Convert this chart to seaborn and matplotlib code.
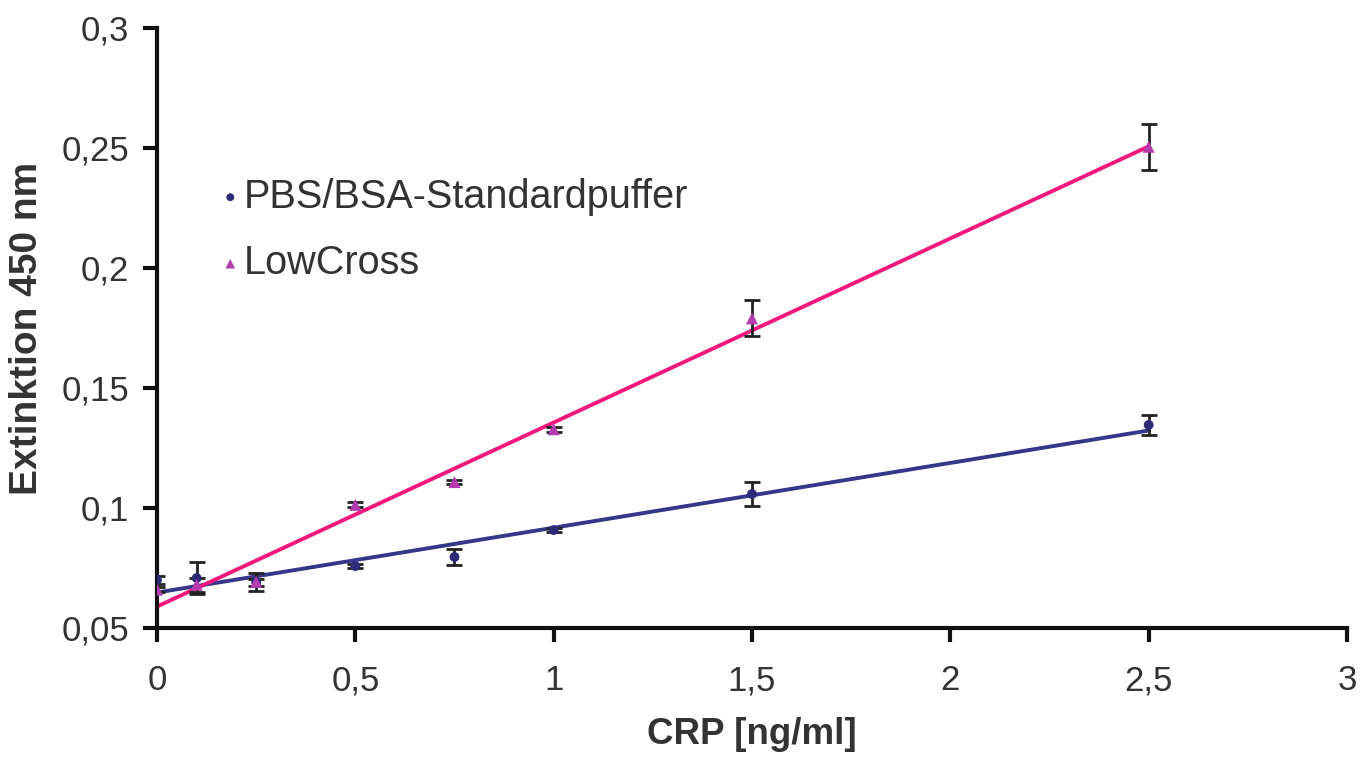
import numpy as np
import pandas as pd
import matplotlib
matplotlib.use("Agg")
import matplotlib.pyplot as plt
from matplotlib.ticker import FuncFormatter, MultipleLocator
import seaborn as sns

# CRP concentrations [ng/ml]
crp = [0, 0.1, 0.25, 0.5, 0.75, 1.0, 1.5, 2.5]

# mean extinction at 450 nm and error
pbs_mean = [0.070, 0.0708, 0.069, 0.0758, 0.0796, 0.0908, 0.1058, 0.1346]
pbs_err = [0.0015, 0.0068, 0.0015, 0.001, 0.0033, 0.001, 0.005, 0.0042]
low_mean = [0.066, 0.068, 0.0692, 0.1013, 0.1108, 0.1328, 0.179, 0.2505]
low_err = [0.001, 0.003, 0.0037, 0.001, 0.001, 0.001, 0.0075, 0.0096]

labels = ["PBS/BSA-Standardpuffer", "LowCross"]
line_colors = ["#36368a", "#f2187c"]
marker_colors = ["#2b2b78", "#b43cb0"]
markers = ["o", "^"]
marker_sizes = [50, 75]

df = pd.DataFrame({
    "crp": crp * 2,
    "ext": pbs_mean + low_mean,
    "err": pbs_err + low_err,
    "puffer": [labels[0]] * len(crp) + [labels[1]] * len(crp),
})

sns.set_style("ticks")
plt.rcParams["font.family"] = ["Liberation Sans", "DejaVu Sans"]

fig = plt.figure(figsize=(13.7, 7.6), dpi=100)
ax = fig.add_axes([0.1146, 0.1737, 0.8686, 0.7895])

for i, name in enumerate(labels):
    sub = df[df["puffer"] == name]
    # linear trend line
    sns.regplot(data=sub, x="crp", y="ext", ax=ax, ci=None, scatter=False,
                color=line_colors[i], line_kws={"lw": 2.8, "zorder": 2})
    ax.errorbar(sub["crp"], sub["ext"], yerr=sub["err"], fmt="none",
                ecolor="#222222", elinewidth=2, capsize=6, capthick=2, zorder=3)
    sns.scatterplot(data=sub, x="crp", y="ext", ax=ax, marker=markers[i],
                    color=marker_colors[i], s=marker_sizes[i], edgecolor="none",
                    label=name, zorder=4)

ax.set_xlim(0, 3)
ax.set_ylim(0.05, 0.3)
ax.xaxis.set_major_locator(MultipleLocator(0.5))
ax.yaxis.set_major_locator(MultipleLocator(0.05))
fmt = FuncFormatter(lambda v, p: f"{v:g}".replace(".", ","))
ax.xaxis.set_major_formatter(fmt)
ax.yaxis.set_major_formatter(fmt)

for s in ["top", "right"]:
    ax.spines[s].set_visible(False)
for s in ["left", "bottom"]:
    ax.spines[s].set_linewidth(3)
    ax.spines[s].set_color("#111111")
ax.tick_params(axis="both", direction="out", length=10, width=3,
               labelsize=25, colors="#111111", labelcolor="#333333")
ax.tick_params(axis="x", pad=16)
ax.tick_params(axis="y", pad=10)

ax.set_xlabel("CRP [ng/ml]", fontsize=26.5, fontweight="bold", color="#333333",
              labelpad=14)
ax.set_ylabel("Extinktion 450 nm", fontsize=28, fontweight="bold",
              color="#333333", labelpad=12)

leg = ax.legend(loc="upper left", bbox_to_anchor=(0.025, 0.81), frameon=False,
                fontsize=28.5, markerscale=0.8, handletextpad=0.15,
                labelspacing=0.72, handlelength=0.4)
for t in leg.get_texts():
    t.set_color("#333333")

fig.savefig("out.png", dpi=100)
